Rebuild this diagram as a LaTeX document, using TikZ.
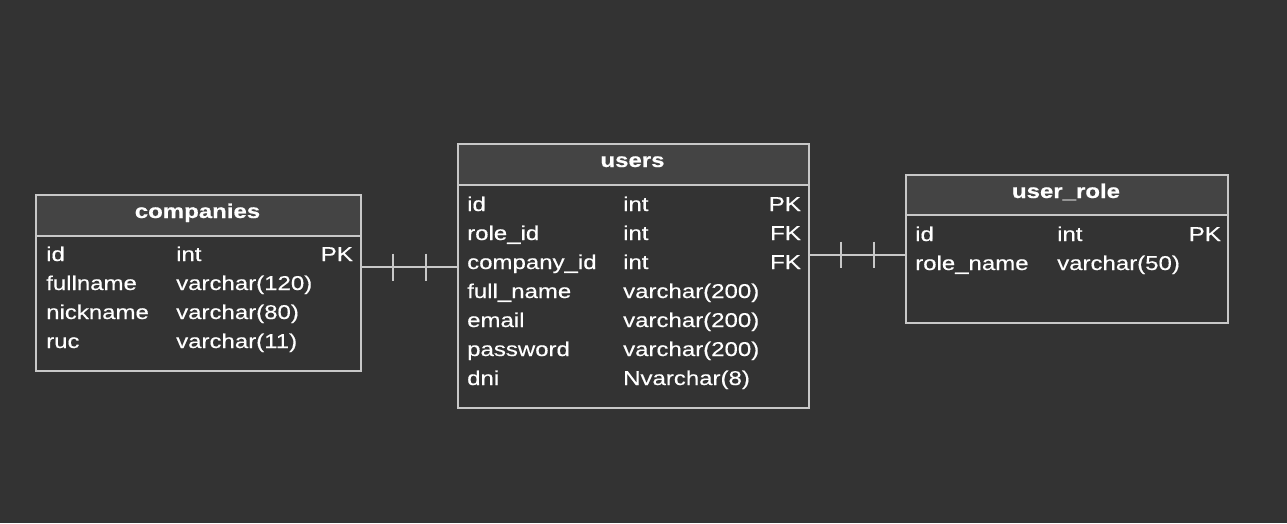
\documentclass[tikz,border=0pt]{standalone}
\usepackage{fontspec}
\setmainfont{Liberation Sans}[FakeStretch=1.2, FakeBold=0.4, BoldFont={Liberation Sans Bold}, BoldFeatures={FakeStretch=1.2}]
\usetikzlibrary{calc}
\definecolor{bgc}{HTML}{333333}
\definecolor{hdrc}{HTML}{444444}
\definecolor{linec}{HTML}{C8C8C8}
\definecolor{txtc}{HTML}{FFFFFF}
\tikzset{
  tbl/.style={draw=linec, line width=2pt, fill=bgc, inner sep=0pt, anchor=north west},
  hdr/.style={fill=hdrc, draw=linec, line width=2pt, inner sep=0pt, anchor=north west},
  cell/.style={text=txtc, inner sep=0pt, anchor=base west, font=\fontsize{20}{24}\selectfont},
  cellr/.style={cell, anchor=base east},
  title/.style={text=txtc, inner sep=0pt, anchor=base, font=\fontsize{20}{24}\selectfont\bfseries},
  rel/.style={draw=linec, line width=2pt},
  tick/.style={draw=linec, line width=2pt}
}
\begin{document}
\begin{tikzpicture}[x=1pt,y=-1pt]
\useasboundingbox[fill=bgc] (0,0) rectangle (1287,523);

% ---------- companies ----------
\node[tbl, minimum width=325pt, minimum height=176pt] (companies) at (35,194) {};
\node[hdr, minimum width=325pt, minimum height=41pt] (companiesh) at (35,194) {};
\node[title] (companiest) at (197.5,218) {companies};
\node[cell] (c1n) at (46,261) {id};
\node[cell] (c1t) at (176,261) {int};
\node[cellr] (c1k) at (353,261) {PK};
\node[cell] (c2n) at (46,290) {fullname};
\node[cell] (c2t) at (176,290) {varchar(120)};
\node[cell] (c3n) at (46,319) {nickname};
\node[cell] (c3t) at (176,319) {varchar(80)};
\node[cell] (c4n) at (46,348) {ruc};
\node[cell] (c4t) at (176,348) {varchar(11)};

% ---------- users ----------
\node[tbl, minimum width=351pt, minimum height=264pt] (users) at (457,143) {};
\node[hdr, minimum width=351pt, minimum height=41pt] (usersh) at (457,143) {};
\node[title] (userst) at (632.5,167) {users};
\node[cell] (u1n) at (467,211) {id};
\node[cell] (u1t) at (623,211) {int};
\node[cellr] (u1k) at (801,211) {PK};
\node[cell] (u2n) at (467,240) {role\_id};
\node[cell] (u2t) at (623,240) {int};
\node[cellr] (u2k) at (801,240) {FK};
\node[cell] (u3n) at (467,269) {company\_id};
\node[cell] (u3t) at (623,269) {int};
\node[cellr] (u3k) at (801,269) {FK};
\node[cell] (u4n) at (467,298) {full\_name};
\node[cell] (u4t) at (623,298) {varchar(200)};
\node[cell] (u5n) at (467,327) {email};
\node[cell] (u5t) at (623,327) {varchar(200)};
\node[cell] (u6n) at (467,356) {password};
\node[cell] (u6t) at (623,356) {varchar(200)};
\node[cell] (u7n) at (467,385) {dni};
\node[cell] (u7t) at (623,385) {Nvarchar(8)};

% ---------- user_role ----------
\node[tbl, minimum width=322pt, minimum height=148pt] (role) at (905,174) {};
\node[hdr, minimum width=322pt, minimum height=40pt] (roleh) at (905,174) {};
\node[title] (rolet) at (1066,198) {user\_role};
\node[cell] (r1n) at (915,241) {id};
\node[cell] (r1t) at (1057,241) {int};
\node[cellr] (r1k) at (1221,241) {PK};
\node[cell] (r2n) at (915,270) {role\_name};
\node[cell] (r2t) at (1057,270) {varchar(50)};

% ---------- relations ----------
\coordinate (la) at (companies.east |- 0,267);
\coordinate (lb) at (users.west |- 0,267);
\draw[rel] (la) -- (lb);
\draw[tick] ($(la)+(31,-13.5)$) -- ($(la)+(31,13.5)$);
\draw[tick] ($(lb)+(-31,-13.5)$) -- ($(lb)+(-31,13.5)$);

\coordinate (ra) at (users.east |- 0,254.5);
\coordinate (rb) at (role.west |- 0,254.5);
\draw[rel] (ra) -- (rb);
\draw[tick] ($(ra)+(31,-13)$) -- ($(ra)+(31,13)$);
\draw[tick] ($(rb)+(-31,-13)$) -- ($(rb)+(-31,13)$);
\end{tikzpicture}
\end{document}
